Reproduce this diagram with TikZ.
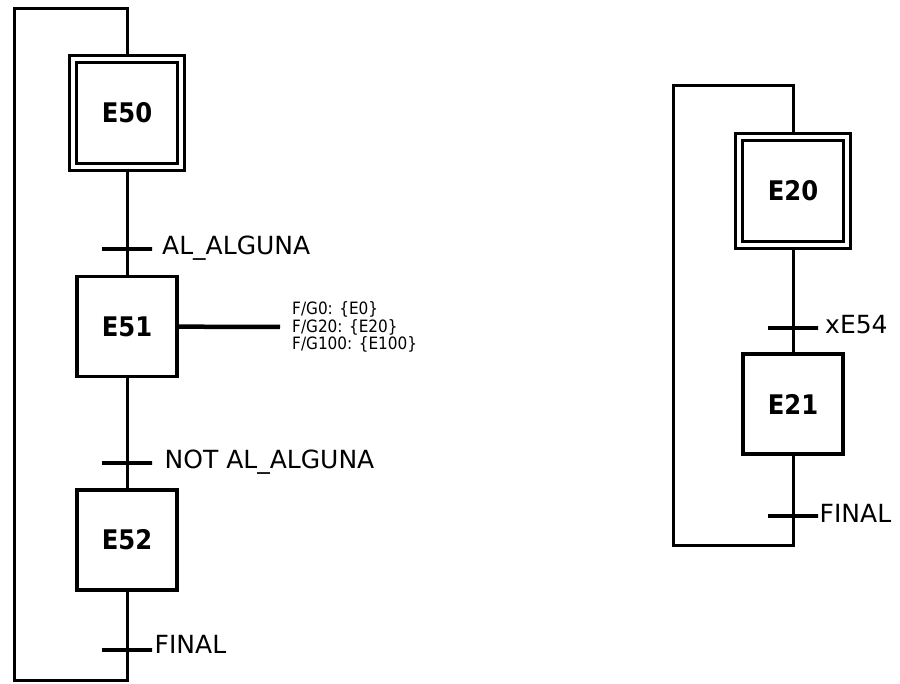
\documentclass[tikz,border=0pt]{standalone}
\usepackage{fontspec}
\setmainfont{DejaVu Sans}
\newfontfamily\stepfont{DejaVu Sans Condensed}
\usetikzlibrary{positioning}

\tikzset{
    stepbox/.style={draw, line width=3.3pt, minimum width=100pt, minimum height=100pt,
        inner sep=0pt, font=\stepfont\bfseries\fontsize{27}{30}\selectfont},
    initbox/.style={stepbox, double, line width=3.2pt, double distance=3.2pt, minimum width=108pt, minimum height=108pt},
    trans/.style={draw, line width=3.3pt, minimum width=50pt, minimum height=0pt, inner sep=0pt, outer sep=0pt},
    cond/.style={inner sep=0pt, text height=18pt, text depth=0pt, yshift=3pt,
        font=\fontsize{25}{30}\selectfont},
    flow/.style={line width=3pt},
    actline/.style={line width=4.5pt},
    acttext/.style={inner sep=0pt, align=left, font=\stepfont\fontsize{17}{17.5}\selectfont}
}

\begin{document}
\begin{tikzpicture}[x=1pt,y=-1pt]
    \useasboundingbox (0,0) rectangle (900,684);

    % Left chart
    \node[initbox] (E50) at (127,113) {E50};
    \node[trans] (t1) at (127,249) {};
    \node[stepbox] (E51) at (127,326.5) {E51};
    \node[trans] (t2) at (127,463) {};
    \node[stepbox] (E52) at (127,540) {E52};
    \node[trans] (t3) at (127,650) {};

    \node[cond, right=10pt of t1] (c1) {AL\_ALGUNA};
    \node[cond, right=12.5pt of t2] (c2) {NOT AL\_ALGUNA};
    \node[cond, right=2.5pt of t3, yshift=3pt] (c3) {FINAL};

    \draw[flow] (E50) -- (t1.center) -- (E51);
    \draw[flow] (E51) -- (t2.center) -- (E52);
    \draw[flow] (E52) -- (t3.center);

    % loop back to E50
    \coordinate (loopbl) at (14,680.5);
    \coordinate (looptr) at (127,8.7);
    \draw[flow] (t3.center) |- (loopbl) |- (looptr) -- (E50);

    % action of E51
    \coordinate (actend) at (280,327);
    \draw[actline] (E51) -- (actend);
    \node[acttext, right=12pt of actend] (act) {F/G0: \{E0\}\\F/G20: \{E20\}\\F/G100: \{E100\}};

    % Right chart
    \node[initbox] (E20) at (793,191) {E20};
    \node[trans] (t4) at (793,328) {};
    \node[stepbox] (E21) at (793,404) {E21};
    \node[trans] (t5) at (793,516) {};

    \node[cond, right=7pt of t4] (c4) {xE54};
    \node[cond, right=1.5pt of t5] (c5) {FINAL};

    \draw[flow] (E20) -- (t4.center) -- (E21);
    \draw[flow] (E21) -- (t5.center);

    % loop back to E20
    \coordinate (rloopbl) at (673.3,545);
    \coordinate (rlooptr) at (793,86);
    \draw[flow] (t5.center) |- (rloopbl) |- (rlooptr) -- (E20);
\end{tikzpicture}
\end{document}
